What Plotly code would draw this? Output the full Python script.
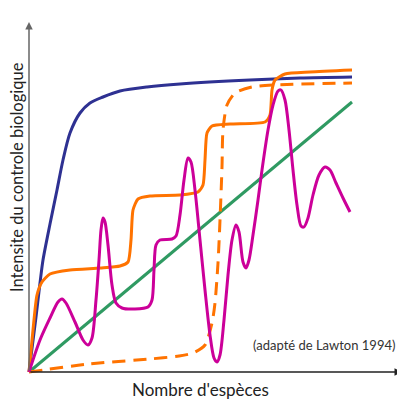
import plotly.graph_objects as go

# Data (x = nombre d'espèces, y = intensité ; arbitrary units)
blue_x = [0, 7, 11, 14, 21, 28, 34, 41, 51, 61, 74, 91, 118, 151, 221, 271, 323]
blue_y = [0, 55, 89, 112, 148, 182, 212, 239, 259, 269, 275, 281, 285, 288, 292, 294, 295]

green_x = [0, 323]
green_y = [0, 270]

orange_x = [0, 4, 8, 13, 21, 41, 71, 91, 99, 102, 104, 109, 121, 151, 169, 174, 176, 178,
            183, 201, 236, 241, 243, 246, 256, 281, 323]
orange_y = [0, 42, 77, 90, 98, 102, 104, 106, 110, 132, 162, 173, 176, 177, 180, 187, 212, 239,
            246, 248, 250, 257, 282, 292, 298, 300, 302]

dash_x = [0, 60, 121, 150, 164, 176, 183, 186, 189, 191, 193, 194, 198, 206, 223, 244, 323]
dash_y = [0, 8, 13, 16, 19, 27, 49, 69, 109, 152, 205, 242, 267, 279, 285, 287, 289]

mag_x = [0, 11, 21, 29, 33, 37, 46, 54, 59, 63, 67, 70, 72, 74, 76, 79, 83, 87, 93, 106, 119,
         123, 125, 127, 131, 143, 147, 151, 155, 159, 162, 166, 171, 176, 181, 185, 188, 191,
         195, 199, 203, 207, 210, 214, 217, 220, 224, 229, 233, 239, 244, 249, 252, 256, 260,
         264, 268, 272, 275, 279, 284, 290, 296, 301, 307, 314, 321]
mag_y = [0, 32, 54, 70, 73, 69, 50, 32, 27, 34, 72, 112, 142, 154, 150, 127, 87, 69, 64, 63, 65,
         72, 102, 127, 132, 133, 136, 157, 192, 214, 210, 182, 132, 82, 37, 14, 10, 17,
         52, 97, 132, 147, 140, 110, 104, 112, 137, 172, 202, 242, 267, 281, 282, 272, 242,
         202, 167, 146, 145, 154, 177, 197, 205, 202, 189, 174, 160]

x_title = "Nombre d'espèces"
y_title = "Intensite du controle biologique"
credit = "(adapté de Lawton 1994)"

fig = go.Figure()
fig.add_trace(go.Scatter(x=green_x, y=green_y, mode="lines",
                         line=dict(color="#2F9A62", width=3)))
fig.add_trace(go.Scatter(x=dash_x, y=dash_y, mode="lines",
                         line=dict(color="#FF7300", width=3, dash="13px,8px", shape="spline", smoothing=0.7)))
fig.add_trace(go.Scatter(x=blue_x, y=blue_y, mode="lines",
                         line=dict(color="#2E3192", width=3, shape="spline", smoothing=0.8)))
fig.add_trace(go.Scatter(x=orange_x, y=orange_y, mode="lines",
                         line=dict(color="#FF7300", width=3, shape="spline", smoothing=0.6)))
fig.add_trace(go.Scatter(x=mag_x, y=mag_y, mode="lines",
                         line=dict(color="#CC0099", width=3, shape="spline", smoothing=0.8)))

font = "Lato, Open Sans, sans-serif"
fig.update_layout(
    width=405, height=404,
    margin=dict(l=0, r=0, t=0, b=0),
    paper_bgcolor="white", plot_bgcolor="white",
    showlegend=False,
    xaxis=dict(range=[-21, 384], visible=False, fixedrange=True),
    yaxis=dict(range=[-40, 364], visible=False, fixedrange=True),
    annotations=[
        dict(x=373, y=0, ax=0, ay=0, xref="x", yref="y", axref="x", ayref="y",
             showarrow=True, arrowhead=2, arrowsize=1, arrowwidth=1.5, arrowcolor="#222222", text=""),
        dict(x=0, y=350, ax=0, ay=0, xref="x", yref="y", axref="x", ayref="y",
             showarrow=True, arrowhead=2, arrowsize=1, arrowwidth=1.5, arrowcolor="#666666", text=""),
        dict(x=171, y=-17, xref="x", yref="y", text=x_title, showarrow=False,
             font=dict(family=font, size=17, color="#222222")),
        dict(x=-12, y=195, xref="x", yref="y", text=y_title, showarrow=False, textangle=-90,
             font=dict(family=font, size=16.5, color="#222222")),
        dict(x=295, y=27, xref="x", yref="y", text=credit, showarrow=False,
             font=dict(family=font, size=13, color="#333333")),
    ],
)
fig.write_html("out.html")
